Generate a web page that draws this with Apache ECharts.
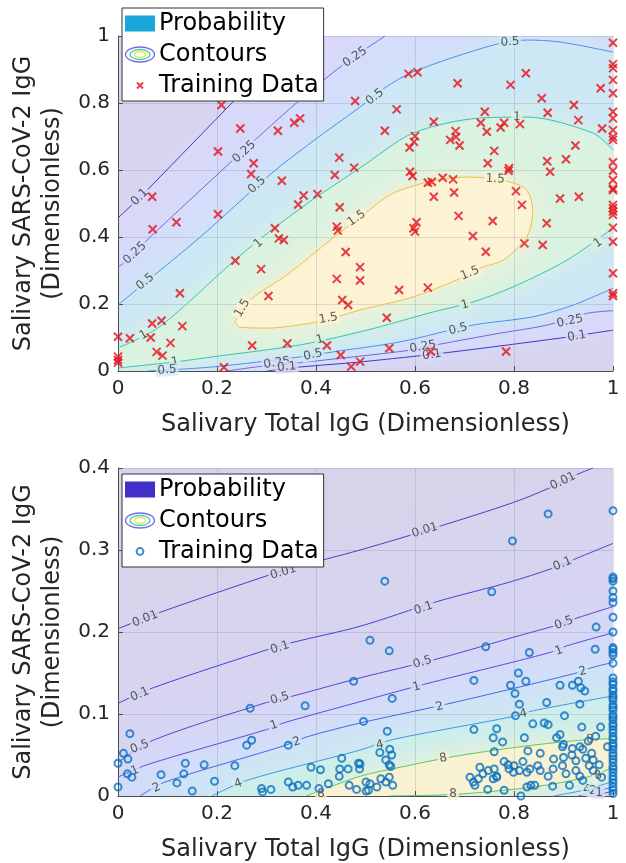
<!DOCTYPE html>
<html>
<head>
<meta charset="utf-8">
<script src="https://cdn.jsdelivr.net/npm/echarts@6/dist/echarts.min.js"></script>
<style>
html, body { margin: 0; padding: 0; background: #fff; }
#chart { width: 626px; height: 863px; }
</style>
</head>
<body>
<div id="chart"></div>
<script>
// ---------- 上图：轮廓线（从图上读出的点 [x, y]） ----------
const topLine01Upper = [[0, 0.457], [0.045, 0.519], [0.065, 0.549], [0.24, 0.815], [0.364, 1]];
const topLine025Upper = [[0, 0.31], [0.015, 0.326], [0.063, 0.397], [0.226, 0.621], [0.277, 0.69], [0.372, 0.815], [0.46, 0.92], [0.54, 1]];
const topLine05Upper = [[0, 0.197], [0.079, 0.293], [0.164, 0.397], [0.311, 0.591], [0.392, 0.684], [0.489, 0.788], [0.539, 0.845], [0.596, 0.893], [0.758, 0.973], [0.826, 0.988], [0.893, 0.982], [1, 0.952]];
const topLine1Upper = [[0, 0.069], [0.083, 0.131], [0.236, 0.331], [0.305, 0.415], [0.392, 0.51], [0.489, 0.606], [0.596, 0.71], [0.731, 0.755], [0.826, 0.758], [0.96, 0.71], [1, 0.66]];
const topLine1Lower = [[0, 0.009], [0.115, 0.027], [0.19, 0.042], [0.368, 0.078], [0.503, 0.122], [0.636, 0.176], [0.717, 0.206], [0.798, 0.251], [0.907, 0.331], [1, 0.427]];
const topLine05Lower = [[0.06, 0], [0.19, 0.012], [0.368, 0.042], [0.434, 0.057], [0.57, 0.087], [0.717, 0.137], [0.839, 0.162], [0.92, 0.197], [1, 0.247]];
const topLine025Lower = [[0.22, 0], [0.284, 0.013], [0.368, 0.025], [0.59, 0.062], [0.65, 0.08], [0.772, 0.113], [0.867, 0.137], [0.947, 0.172], [1, 0.18]];
const topLine01Lower = [[0.3, 0], [0.368, 0.012], [0.489, 0.027], [0.665, 0.055], [0.907, 0.101], [0.96, 0.113], [1, 0.122]];
const topLine15 = [[0.236, 0.146], [0.267, 0.212], [0.341, 0.287], [0.442, 0.406], [0.495, 0.466], [0.556, 0.531], [0.644, 0.57], [0.711, 0.579], [0.792, 0.564], [0.826, 0.54], [0.838, 0.48], [0.826, 0.40], [0.778, 0.331], [0.731, 0.307], [0.685, 0.272], [0.596, 0.221], [0.489, 0.182], [0.455, 0.167], [0.402, 0.146], [0.30, 0.128], [0.246, 0.131], [0.236, 0.146]];

// 上图轮廓标注 [x, y, 文字, 角度]
const topLabels = [
    [0.044, 0.519, '0.1', 45],
    [0.034, 0.352, '0.25', 43], [0.255, 0.654, '0.25', 43], [0.479, 0.937, '0.25', 35],
    [0.055, 0.266, '0.5', 39], [0.281, 0.555, '0.5', 42], [0.519, 0.818, '0.5', 37], [0.792, 0.982, '0.5', 3],
    [0.052, 0.107, '1', 30], [0.284, 0.381, '1', 42], [0.806, 0.758, '1', -2],
    [0.115, 0.027, '1', 10], [0.408, 0.093, '1', 15], [0.701, 0.197, '1', 15], [0.97, 0.382, '1', 35],
    [0.099, 0.003, '0.5', 5], [0.394, 0.048, '0.5', 12], [0.687, 0.125, '0.5', 15],
    [0.321, 0.024, '0.25', 8], [0.616, 0.072, '0.25', 10], [0.913, 0.149, '0.25', 12],
    [0.341, 0.012, '0.1', 5], [0.634, 0.048, '0.1', 8], [0.927, 0.104, '0.1', 10],
    [0.251, 0.188, '1.5', 60], [0.425, 0.157, '1.5', 10], [0.482, 0.456, '1.5', 35], [0.762, 0.573, '1.5', -3], [0.711, 0.292, '1.5', 22]
];

// 上图训练数据
const topTrainX = [0.209, 0.247, 0.323, 0.356, 0.368, 0.202, 0.274, 0.269, 0.331, 0.375, 0.364, 0.069, 0.202, 0.118, 0.07, 0.317, 0.325, 0.335,
    1, 0.587, 0.605, 0.824, 0.686, 0.793, 1, 1, 1, 1, 0.975, 0.856, 0.921, 0.563, 0.741, 0.868, 1, 1, 0.638, 0.733, 0.78, 0.773, 0.812, 0.93,
    0.539, 0.682, 0.745, 0.978, 1, 1, 1, 0.6, 0.598, 0.683, 0.671, 0.589, 0.69, 0.924, 0.76, 0.747, 0.79, 0.789, 0.867, 0.905, 0.873,
    1, 1, 1, 1, 1, 0.59, 0.595, 0.626, 0.634, 0.656, 0.677, 0.679, 0.638, 0.804, 0.893, 0.931, 1, 1, 1, 1, 1, 1, 1, 1, 1,
    0.816, 0.688, 0.757, 0.866, 0.603, 0.597, 0.6, 0.717, 0.821, 0.858, 0.743, 0.489, 0.489, 0.568, 0.626, 0.543, 0.548, 0.632, 0.784, 0.489,
    0.403, 0.448, 0.442, 0.444, 0.46, 0.237, 0.289, 0.442, 0.125, 0.304, 0.453, 0.465, 0.069, 0.088, 0.13, 0, 0.024, 0.066, 0.106, 0.078, 0.09,
    0, 0, 0, 0.271, 0.342, 0.422, 0.45, 0.471, 0.214, 0.447, 0.477, 0.438, 0.479];
const topTrainY = [0.794, 0.724, 0.717, 0.741, 0.754, 0.655, 0.62, 0.588, 0.568, 0.524, 0.497, 0.52, 0.468, 0.444, 0.423, 0.426, 0.396, 0.391,
    0.98, 0.887, 0.892, 0.889, 0.859, 0.854, 0.916, 0.904, 0.869, 0.829, 0.844, 0.814, 0.794, 0.781, 0.774, 0.771, 0.774, 0.754, 0.744, 0.741, 0.741, 0.727, 0.737, 0.749,
    0.717, 0.716, 0.714, 0.724, 0.719, 0.699, 0.69, 0.701, 0.684, 0.699, 0.69, 0.667, 0.673, 0.673, 0.657, 0.62, 0.605, 0.598, 0.626, 0.632, 0.595,
    0.623, 0.598, 0.57, 0.545, 0.54, 0.595, 0.582, 0.562, 0.565, 0.577, 0.572, 0.533, 0.52, 0.537, 0.515, 0.52, 0.496, 0.486, 0.476, 0.466, 0.428, 0.386, 0.292, 0.232, 0.224,
    0.496, 0.463, 0.448, 0.441, 0.444, 0.426, 0.416, 0.403, 0.381, 0.376, 0.356, 0.31, 0.27, 0.242, 0.249, 0.159, 0.068, 0.058, 0.058, 0.028,
    0.528, 0.489, 0.431, 0.419, 0.355, 0.329, 0.304, 0.275, 0.232, 0.224, 0.212, 0.197, 0.142, 0.15, 0.134, 0.102, 0.098, 0.1, 0.084, 0.057, 0.046,
    0.043, 0.033, 0.025, 0.076, 0.082, 0.076, 0.048, 0.013, 0.011, 0.637, 0.607, 0.585, 0.806];

// ---------- 下图：轮廓线 ----------
const botLine001 = [[0, 0.204], [0.085, 0.224], [0.313, 0.271], [0.358, 0.279], [0.489, 0.3], [0.65, 0.329], [0.799, 0.358], [0.873, 0.376], [0.927, 0.392], [0.96, 0.4]];
const botLine01 = [[0, 0.113], [0.071, 0.132], [0.294, 0.177], [0.351, 0.187], [0.489, 0.207], [0.644, 0.237], [0.792, 0.261], [0.879, 0.278], [0.927, 0.29], [1, 0.308]];
const botLine05 = [[0, 0.041], [0.071, 0.068], [0.3, 0.114], [0.354, 0.122], [0.489, 0.144], [0.644, 0.167], [0.819, 0.197], [0.879, 0.207], [0.927, 0.217], [1, 0.231]];
const botLine1 = [[0, 0.023], [0.058, 0.038], [0.3, 0.081], [0.334, 0.089], [0.489, 0.115], [0.617, 0.136], [0.873, 0.175], [0.906, 0.183], [1, 0.199]];
const botLine2 = [[0.045, 0], [0.095, 0.017], [0.334, 0.061], [0.381, 0.072], [0.489, 0.089], [0.664, 0.112], [0.92, 0.149], [0.954, 0.156], [1, 0.163]];
const botLine4 = [[0.19, 0], [0.26, 0.019], [0.489, 0.056], [0.556, 0.069], [0.799, 0.097], [0.839, 0.104], [1, 0.122]];
const botLine8 = [[0.38, 0], [0.489, 0.024], [0.57, 0.035], [0.677, 0.048], [0.812, 0.06], [0.933, 0.068], [1, 0.07]];
const botLine8Lower = [[0.55, 0], [0.68, 0.002], [0.839, 0.011], [0.947, 0.023], [1, 0.035]];
const botLine4Lower = [[0.88, 0], [0.947, 0.008], [1, 0.018]];
const botLine2Lower = [[0.93, 0], [1, 0.011]];
const botLine1Lower = [[0.96, 0], [1, 0.006]];

const botLabels = [
    [0.055, 0.216, '0.01', 22], [0.334, 0.273, '0.01', 17], [0.62, 0.324, '0.01', 17], [0.899, 0.384, '0.01', 26],
    [0.044, 0.124, '0.1', 23], [0.327, 0.181, '0.1', 18], [0.617, 0.229, '0.1', 18], [0.898, 0.283, '0.1', 22],
    [0.044, 0.06, '0.5', 22], [0.327, 0.119, '0.5', 16], [0.615, 0.163, '0.5', 17], [0.901, 0.211, '0.5', 20],
    [0.034, 0.031, '1', 22], [0.315, 0.086, '1', 17], [0.603, 0.133, '1', 16], [0.891, 0.177, '1', 20],
    [0.078, 0.01, '2', 25], [0.361, 0.066, '2', 17], [0.65, 0.109, '2', 15], [0.939, 0.152, '2', 16],
    [0.243, 0.015, '4', 20], [0.529, 0.062, '4', 14], [0.819, 0.1, '4', 12],
    [0.41, 0.003, '8', 0], [0.657, 0.046, '8', 10], [0.954, 0.069, '8', 3], [0.677, 0.003, '8', 0], [0.97, 0.025, '8', 15],
    [0.947, 0.008, '4', 0], [0.959, 0.006, '2', 0], [0.972, 0.004, '1', 0]
];

// 下图训练数据
const botTrainX = [1, 0.869, 0.797, 0.539, 0.755, 1, 1, 1, 1, 1, 1, 1, 0.966, 1,
    0.509, 0.476, 0.378, 0.267, 0.496, 0.024, 0.27, 0.26, 0.344, 0.011, 0.02, 0, 0.136, 0.174, 0.236, 0.39, 0.409, 0.452, 0.448, 0.465, 0.486, 0.488,
    0.019, 0.028, 0.087, 0.133, 0.119, 0.195, 0, 0.15, 0.29, 0.292, 0.309, 0.344, 0.353, 0.364, 0.381, 0.406, 0.425, 0.447, 0.467, 0.482, 0.501, 0.506,
    0.548, 0.743, 0.831, 0.964, 0.719, 0.809, 0.793, 0.802, 0.824, 0.554, 0.811, 0.893, 0.918, 0.93, 0.935, 0.943, 0.866, 0.933, 0.803, 0.838, 0.902,
    0.861, 0.869, 0.937, 0.544, 0.719, 0.765, 0.758, 0.777, 0.821, 0.893, 0.886, 0.9, 0.965, 0.975, 0.95, 0.989, 0.529, 0.549, 0.553, 0.541, 0.548, 0.551,
    0.76, 0.828, 0.853, 0.898, 0.918, 0.933, 0.939, 0.917, 0.957,
    0.731, 0.737, 0.748, 0.76, 0.765, 0.78, 0.788, 0.79, 0.799, 0.8, 0.818, 0.811, 0.826, 0.832, 0.848, 0.853, 0.869, 0.879, 0.898, 0.905, 0.925, 0.933,
    0.952, 0.96, 0.977, 0.711, 0.718, 0.721, 0.728, 0.747, 0.758, 0.765, 0.78, 0.826, 0.834, 0.842, 0.878, 0.912, 0.939, 0.814, 0.972,
    0.489, 0.509, 0.523, 0.531, 0.541, 0.548, 0.555, 0.501, 0.88, 0.9, 0.925, 0.945, 0.96,
    1, 1, 1, 1, 1, 1, 1, 1, 1, 1, 1, 1, 1, 1, 1, 1, 1, 1, 1, 1, 1, 1, 1, 1, 1, 1, 1, 1, 1, 1, 1, 1, 1, 1, 1, 1, 1, 1, 1, 1, 1];
const botTrainY = [0.348, 0.344, 0.311, 0.262, 0.249, 0.267, 0.265, 0.262, 0.25, 0.242, 0.236, 0.218, 0.206, 0.2,
    0.19, 0.14, 0.11, 0.107, 0.091, 0.076, 0.068, 0.062, 0.062, 0.052, 0.045, 0.04, 0.04, 0.038, 0.037, 0.035, 0.032, 0.046, 0.033, 0.033, 0.04, 0.033,
    0.027, 0.023, 0.026, 0.027, 0.016, 0.018, 0.011, 0.006, 0.009, 0.005, 0.008, 0.017, 0.011, 0.013, 0.013, 0.009, 0.015, 0.024, 0.013, 0.008, 0.017, 0.007,
    0.177, 0.182, 0.175, 0.179, 0.141, 0.15, 0.135, 0.125, 0.14, 0.119, 0.112, 0.135, 0.135, 0.14, 0.132, 0.128, 0.114, 0.112, 0.098, 0.088, 0.098,
    0.089, 0.087, 0.084, 0.079, 0.081, 0.082, 0.071, 0.066, 0.071, 0.075, 0.071, 0.063, 0.073, 0.084, 0.067, 0.06, 0.053, 0.057, 0.05, 0.044, 0.038, 0.036,
    0.054, 0.055, 0.052, 0.06, 0.058, 0.06, 0.057, 0.05, 0.052,
    0.035, 0.027, 0.031, 0.033, 0.024, 0.042, 0.038, 0.033, 0.029, 0.037, 0.042, 0.031, 0.029, 0.033, 0.037, 0.031, 0.024, 0.033, 0.037, 0.027, 0.031, 0.024,
    0.037, 0.031, 0.023, 0.023, 0.017, 0.013, 0.021, 0.008, 0.021, 0.023, 0.007, 0.011, 0.013, 0.013, 0.012, 0.013, 0.019, 0.0, 0.038,
    0.039, 0.015, 0.011, 0.021, 0.017, 0.023, 0.013, 0.006, 0.045, 0.047, 0.043, 0.046, 0.044,
    0.181, 0.179, 0.175, 0.172, 0.162, 0.144, 0.139, 0.136, 0.131, 0.128, 0.123, 0.12, 0.117, 0.111, 0.108, 0.105, 0.099, 0.096, 0.093, 0.088, 0.085,
    0.081, 0.077, 0.072, 0.069, 0.064, 0.061, 0.057, 0.052, 0.049, 0.045, 0.041, 0.036, 0.033, 0.029, 0.024, 0.02, 0.016, 0.011, 0.007, 0.003];

// ---------- 颜色 ----------
const topLevels = ['0.1', '0.25', '0.5', '1', '1.5'];
const topBandColors = ['#d7d4ee', '#d9d8f8', '#d4ddfa', '#cde8f4', '#daf2e0', '#fcf2d4'];
const topLineColors = ['#4535c8', '#7565df', '#4c8ff0', '#38c4b2', '#f0c040'];
const botLevels = ['0.01', '0.1', '0.5', '1', '2', '4', '8'];
const botBandColors = ['#d7d3eb', '#d7d4ee', '#d6d4f1', '#d5d7f5', '#d3dbf8', '#cfe3f6', '#cdeeea', '#f8f1d2'];
const botLineColors = ['#4a3cc8', '#4e40cc', '#5444d4', '#5a4ce0', '#4a64ea', '#3c98e4', '#5cc85c'];

const FONT = 'DejaVu Sans';

// 区域多边形（由轮廓线拼出）
const rev = a => a.slice().reverse();
const topBands = [
    [[0, 0], [1, 0], [1, 1], [0, 1]],
    [...topLine01Upper, [1, 1], ...rev(topLine01Lower), [0, 0]],
    [...topLine025Upper, [1, 1], ...rev(topLine025Lower), [0, 0]],
    [...topLine05Upper, ...rev(topLine05Lower), [0, 0]],
    [...topLine1Upper, ...rev(topLine1Lower)],
    topLine15
];
const botBands = [
    [[0, 0], [1, 0], [1, 0.4], [0, 0.4]],
    [...botLine001, [1, 0.4], [1, 0], [0, 0]],
    [...botLine01, [1, 0], [0, 0]],
    [...botLine05, [1, 0], [0, 0]],
    [...botLine1, ...rev(botLine1Lower), [0, 0]],
    [...botLine2, ...rev(botLine2Lower)],
    [...botLine4, ...rev(botLine4Lower)],
    [...botLine8, ...rev(botLine8Lower)]
];

function bandSeries(gi, bands, colors) {
    return {
        type: 'custom',
        name: 'Probability',
        xAxisIndex: gi,
        yAxisIndex: gi,
        clip: true,
        silent: true,
        z: 1,
        data: bands.map((b, i) => [i]),
        renderItem: function (params, api) {
            const i = params.dataIndex;
            const c = colors[i];
            return {
                type: 'polygon',
                shape: { points: bands[i].map(p => api.coord(p)) },
                style: { fill: c, shadowBlur: i === 0 ? 0 : 26, shadowColor: c }
            };
        }
    };
}

function contourSeries(gi, line, color) {
    return {
        type: 'line',
        name: 'Contours',
        xAxisIndex: gi,
        yAxisIndex: gi,
        data: line,
        smooth: 0.3,
        symbol: 'none',
        clip: true,
        silent: true,
        z: 3,
        lineStyle: { color: color, width: 1 }
    };
}

function labelSeries(gi, labels, levels, bandColors) {
    return {
        type: 'scatter',
        xAxisIndex: gi,
        yAxisIndex: gi,
        symbolSize: 0,
        silent: true,
        clip: false,
        z: 4,
        data: labels.map(l => ({
            value: [l[0], l[1]],
            label: {
                show: true,
                position: 'inside',
                formatter: l[2],
                rotate: l[3],
                fontSize: 12,
                fontFamily: FONT,
                color: '#333',
                backgroundColor: bandColors[levels.indexOf(l[2]) + 1],
                padding: [0, 2]
            }
        }))
    };
}

const zip = (xs, ys) => xs.map((x, i) => [x, ys[i]]);

const svgIcon = s => 'image://data:image/svg+xml;charset=utf-8,' + encodeURIComponent(
    '<svg xmlns="http://www.w3.org/2000/svg" width="32" height="18" viewBox="0 0 32 18">' + s + '</svg>');
const contourIcon = svgIcon(
    '<ellipse cx="16" cy="9" rx="14.5" ry="7.5" fill="#fff" stroke="#7a6cd8" stroke-width="1.3"/>' +
    '<ellipse cx="16" cy="9" rx="10" ry="5" fill="#fff" stroke="#3cc8c4" stroke-width="1.3"/>' +
    '<ellipse cx="16" cy="9" rx="5.5" ry="2.8" fill="#fff" stroke="#f0e040" stroke-width="1.3"/>');

function legendCfg(top, swatch, markIcon) {
    return {
        orient: 'vertical',
        left: 122,
        top: top,
        itemWidth: 32,
        itemHeight: 18,
        itemGap: 4,
        padding: [2, 5, 2, 2],
        backgroundColor: '#fff',
        borderColor: '#333',
        borderWidth: 1,
        selectedMode: false,
        z: 10,
        textStyle: { fontSize: 24, fontFamily: FONT, color: '#000', lineHeight: 27, padding: [0, 0, 0, -2] },
        data: [
            { name: 'Probability', icon: svgIcon('<rect x="1" y="1" width="30" height="16" fill="' + swatch + '"/>') },
            { name: 'Contours', icon: contourIcon },
            { name: 'Training Data', icon: markIcon }
        ]
    };
}

function xAxisCfg(gi) {
    return {
        gridIndex: gi, type: 'value', min: 0, max: 1, interval: 0.2,
        name: 'Salivary Total IgG (Dimensionless)',
        nameLocation: 'middle', nameGap: 42,
        nameTextStyle: { fontSize: 24, fontFamily: FONT, color: '#262626' },
        axisLine: { show: true, onZero: false, lineStyle: { color: '#4d4d4d' } },
        axisTick: { show: true, inside: true, length: 5, lineStyle: { color: '#4d4d4d' } },
        axisLabel: { fontSize: 20, fontFamily: FONT, color: '#262626', margin: 8 },
        splitLine: { show: true, lineStyle: { color: 'rgba(60,60,80,0.14)' } },
        z: 2
    };
}

function yAxisCfg(gi, max, interval) {
    return {
        gridIndex: gi, type: 'value', min: 0, max: max, interval: interval,
        name: 'Salivary SARS-CoV-2 IgG\n(Dimensionless)',
        nameLocation: 'middle', nameGap: 22, nameRotate: 90,
        nameTextStyle: { fontSize: 24, fontFamily: FONT, color: '#262626', lineHeight: 29 },
        axisLine: { show: true, onZero: false, lineStyle: { color: '#4d4d4d' } },
        axisTick: { show: true, inside: true, length: 5, lineStyle: { color: '#4d4d4d' } },
        axisLabel: { fontSize: 20, fontFamily: FONT, color: '#262626', margin: 8 },
        splitLine: { show: true, lineStyle: { color: 'rgba(60,60,80,0.14)' } },
        z: 2
    };
}

const topLines = [
    [topLine01Upper, 0], [topLine01Lower, 0], [topLine025Upper, 1], [topLine025Lower, 1],
    [topLine05Upper, 2], [topLine05Lower, 2], [topLine1Upper, 3], [topLine1Lower, 3], [topLine15, 4]
];
const botLines = [
    [botLine001, 0], [botLine01, 1], [botLine05, 2], [botLine1, 3], [botLine1Lower, 3], [botLine2, 4], [botLine2Lower, 4],
    [botLine4, 5], [botLine4Lower, 5], [botLine8, 6], [botLine8Lower, 6]
];

const series = [
    bandSeries(0, topBands, topBandColors),
    ...topLines.map(l => contourSeries(0, l[0], topLineColors[l[1]])),
    labelSeries(0, topLabels, topLevels, topBandColors),
    {
        type: 'scatter', name: 'Training Data', xAxisIndex: 0, yAxisIndex: 0,
        data: zip(topTrainX, topTrainY), clip: false, z: 5,
        symbol: 'path://M0,0L10,10M10,0L0,10', symbolSize: 8,
        itemStyle: { color: 'rgba(0,0,0,0)', borderColor: '#e3101c', borderWidth: 2 }
    },
    bandSeries(1, botBands, botBandColors),
    ...botLines.map(l => contourSeries(1, l[0], botLineColors[l[1]])),
    labelSeries(1, botLabels, botLevels, botBandColors),
    {
        type: 'scatter', name: 'Training Data', xAxisIndex: 1, yAxisIndex: 1,
        data: zip(botTrainX, botTrainY), clip: false, z: 5,
        symbol: 'circle', symbolSize: 7,
        itemStyle: { color: 'rgba(0,0,0,0)', borderColor: '#0b72c0', borderWidth: 2 }
    }
];

const chart = echarts.init(document.getElementById('chart'));
chart.setOption({
    animation: false,
    backgroundColor: '#fff',
    textStyle: { fontFamily: FONT },
    grid: [
        { left: 118, top: 36, width: 495, height: 335 },
        { left: 118, top: 468, width: 495, height: 336 }
    ],
    xAxis: [xAxisCfg(0), xAxisCfg(1)],
    yAxis: [yAxisCfg(0, 1, 0.2), yAxisCfg(1, 0.4, 0.1)],
    legend: [
        legendCfg(8, '#18a8dc', svgIcon('<path d="M13,6L19,12M19,6L13,12" stroke="#e3101c" stroke-width="2" fill="none"/>')),
        legendCfg(474, '#4030c8', svgIcon('<circle cx="16" cy="9" r="3.4" fill="none" stroke="#0b72c0" stroke-width="2"/>'))
    ],
    series: series
});
</script>
</body>
</html>
